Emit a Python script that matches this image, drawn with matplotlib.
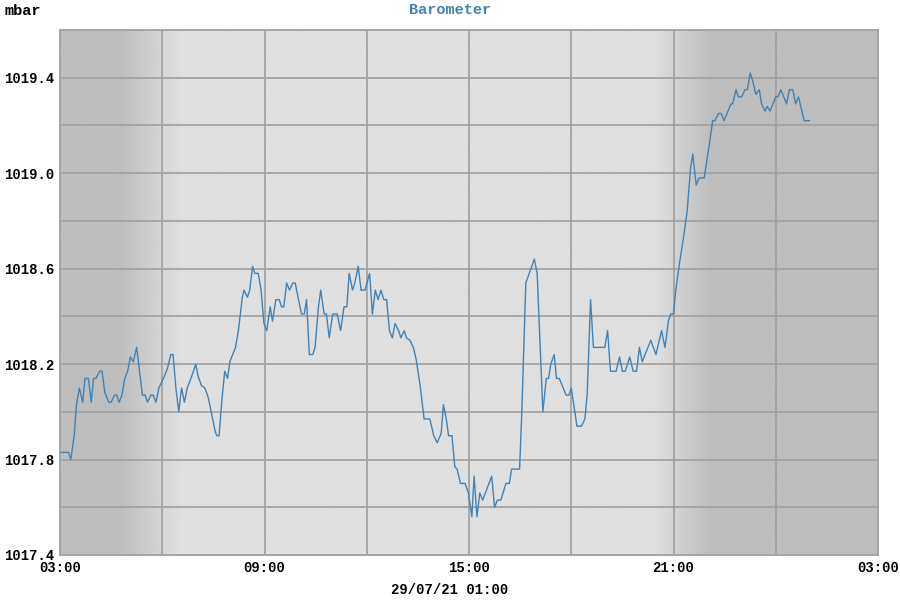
import numpy as np
import matplotlib
matplotlib.use("Agg")
import matplotlib.pyplot as plt

# minutes after 03:00 on 28/07/21
minutes = [0, 15, 19, 25, 29, 34, 40, 44, 50, 55, 59, 63, 70, 74, 79, 86, 90, 96, 100, 104,
           109, 114, 119, 124, 129, 135, 140, 145, 150, 154, 160, 164, 169, 174, 182, 189, 195, 199, 204, 209,
           214, 219, 224, 232, 239, 243, 249, 255, 261, 267, 273, 276, 280, 285, 290, 295, 299, 309, 314, 321,
           324, 330, 334, 339, 343, 349, 354, 359, 364, 370, 374, 380, 386, 390, 394, 399, 404, 410, 414, 420,
           425, 430, 434, 439, 445, 449, 455, 459, 465, 469, 474, 480, 488, 494, 500, 505, 509, 515, 519, 525,
           530, 537, 545, 550, 555, 560, 565, 570, 575, 580, 585, 590, 596, 600, 606, 610, 616, 622, 627, 634,
           641, 651, 658, 664, 671, 675, 680, 684, 690, 695, 699, 705, 713, 719, 725, 729, 734, 739, 744, 760,
           765, 770, 776, 785, 791, 795, 809, 813, 820, 826, 835, 840, 850, 856, 860, 864, 870, 874, 879, 891,
           896, 900, 910, 918, 924, 928, 934, 939, 959, 964, 969, 979, 985, 990, 995, 1003, 1009, 1015, 1020, 1025,
           1040, 1049, 1059, 1065, 1071, 1075, 1080, 1084, 1091, 1097, 1104, 1110, 1114, 1120, 1125, 1134, 1143, 1149, 1153, 1159,
           1164, 1169, 1181, 1184, 1190, 1194, 1200, 1206, 1210, 1215, 1219, 1225, 1231, 1235, 1241, 1245, 1250, 1260, 1264, 1269,
           1279, 1284, 1290, 1295, 1300, 1310, 1319]
pressure = [1017.83, 1017.83, 1017.80, 1017.90, 1018.03, 1018.10, 1018.04, 1018.14, 1018.14, 1018.04,
            1018.14, 1018.14, 1018.17, 1018.17, 1018.08, 1018.04, 1018.04, 1018.07, 1018.07, 1018.04,
            1018.07, 1018.14, 1018.17, 1018.23, 1018.21, 1018.27, 1018.17, 1018.07, 1018.07, 1018.04,
            1018.07, 1018.07, 1018.04, 1018.10, 1018.14, 1018.18, 1018.24, 1018.24, 1018.10, 1018.00,
            1018.10, 1018.04, 1018.10, 1018.15, 1018.20, 1018.15, 1018.11, 1018.10, 1018.06, 1017.99,
            1017.92, 1017.90, 1017.90, 1018.05, 1018.17, 1018.14, 1018.21, 1018.27, 1018.34, 1018.48,
            1018.51, 1018.48, 1018.51, 1018.61, 1018.58, 1018.58, 1018.51, 1018.37, 1018.34, 1018.44,
            1018.38, 1018.47, 1018.47, 1018.44, 1018.44, 1018.54, 1018.51, 1018.54, 1018.54, 1018.47,
            1018.41, 1018.41, 1018.47, 1018.24, 1018.24, 1018.27, 1018.44, 1018.51, 1018.41, 1018.41,
            1018.31, 1018.41, 1018.41, 1018.34, 1018.44, 1018.44, 1018.58, 1018.51, 1018.54, 1018.61,
            1018.51, 1018.51, 1018.58, 1018.41, 1018.51, 1018.47, 1018.51, 1018.47, 1018.47, 1018.34,
            1018.31, 1018.37, 1018.34, 1018.31, 1018.34, 1018.31, 1018.30, 1018.27, 1018.22, 1018.11,
            1017.97, 1017.97, 1017.90, 1017.87, 1017.91, 1018.03, 1017.97, 1017.90, 1017.90, 1017.77,
            1017.76, 1017.70, 1017.70, 1017.66, 1017.56, 1017.73, 1017.56, 1017.66, 1017.63, 1017.73,
            1017.60, 1017.63, 1017.63, 1017.70, 1017.70, 1017.76, 1017.76, 1018.00, 1018.54, 1018.58,
            1018.64, 1018.58, 1018.00, 1018.14, 1018.14, 1018.20, 1018.24, 1018.14, 1018.14, 1018.07,
            1018.07, 1018.10, 1017.94, 1017.94, 1017.97, 1018.07, 1018.47, 1018.27, 1018.27, 1018.34,
            1018.17, 1018.17, 1018.23, 1018.17, 1018.17, 1018.23, 1018.17, 1018.17, 1018.27, 1018.21,
            1018.30, 1018.24, 1018.34, 1018.27, 1018.38, 1018.41, 1018.41, 1018.51, 1018.63, 1018.72,
            1018.84, 1019.02, 1019.08, 1018.95, 1018.98, 1018.98, 1019.12, 1019.22, 1019.22, 1019.25,
            1019.25, 1019.22, 1019.29, 1019.29, 1019.35, 1019.32, 1019.32, 1019.35, 1019.35, 1019.42,
            1019.39, 1019.33, 1019.35, 1019.29, 1019.26, 1019.28, 1019.26, 1019.32, 1019.32, 1019.35,
            1019.29, 1019.35, 1019.35, 1019.29, 1019.32, 1019.22, 1019.22]

x_ticks = [0, 360, 720, 1080, 1440]
x_labels = ['03:00', '09:00', '15:00', '21:00', '03:00']
y_ticks = [1017.4, 1017.8, 1018.2, 1018.6, 1019.0, 1019.4]

# dawn / dusk (minutes after 03:00) for the shaded background
dawn = (106, 211)
dusk = (1047, 1144)

font = 'Liberation Mono'
blue = '#4282b4'
grid_col = '#a3a3a3'

fig = plt.figure(figsize=(9, 6), dpi=100)
ax = fig.add_axes([60 / 900, 45 / 600, 818 / 900, 525 / 600])

# day / night shading
t = np.arange(0, 1441)
night, day = 0.745, 0.875
up = np.clip((t - dawn[0]) / (dawn[1] - dawn[0]), 0, 1)
down = np.clip((t - dusk[0]) / (dusk[1] - dusk[0]), 0, 1)
shade = night + (day - night) * (up - down)
ax.imshow(shade[np.newaxis, :], extent=[0, 1440, 1017.4, 1019.6], aspect='auto',
          cmap='gray', vmin=0, vmax=1, interpolation='bilinear', zorder=0)

ax.plot(minutes, pressure, color=blue, linewidth=1.0, zorder=3)

ax.set_xlim(0, 1440)
ax.set_ylim(1017.4, 1019.6)
ax.set_xticks(x_ticks)
ax.set_xticklabels(x_labels)
ax.set_xticks(np.arange(180, 1440, 360), minor=True)
ax.set_yticks(y_ticks)
ax.set_yticklabels(['%.1f' % v for v in y_ticks])
ax.set_yticks(np.arange(1017.6, 1019.61, 0.4), minor=True)
ax.grid(True, which='both', color=grid_col, linewidth=1.3)
for line in ax.get_xgridlines() + ax.get_ygridlines():
    line.set_zorder(1)
ax.tick_params(which='both', length=0)
ax.tick_params(axis='x', pad=4)
ax.tick_params(axis='y', pad=4)
for lab in ax.get_xticklabels() + ax.get_yticklabels():
    lab.set_fontfamily(font)
    lab.set_fontweight('bold')
    lab.set_fontsize(10)
for s in ax.spines.values():
    s.set_color(grid_col)
    s.set_linewidth(1.3)

fig.text(5 / 900, 1 - 11 / 600, 'mbar', fontfamily=font, fontweight='bold', fontsize=11,
         va='center', ha='left')
fig.text(450 / 900, 1 - 10 / 600, 'Barometer', fontfamily=font, fontweight='bold', fontsize=11,
         va='center', ha='center', color=blue)
fig.text(450 / 900, 1 - 590 / 600, '29/07/21 01:00', fontfamily=font, fontweight='bold', fontsize=10,
         va='center', ha='center')

fig.savefig('out.png', dpi=100)
